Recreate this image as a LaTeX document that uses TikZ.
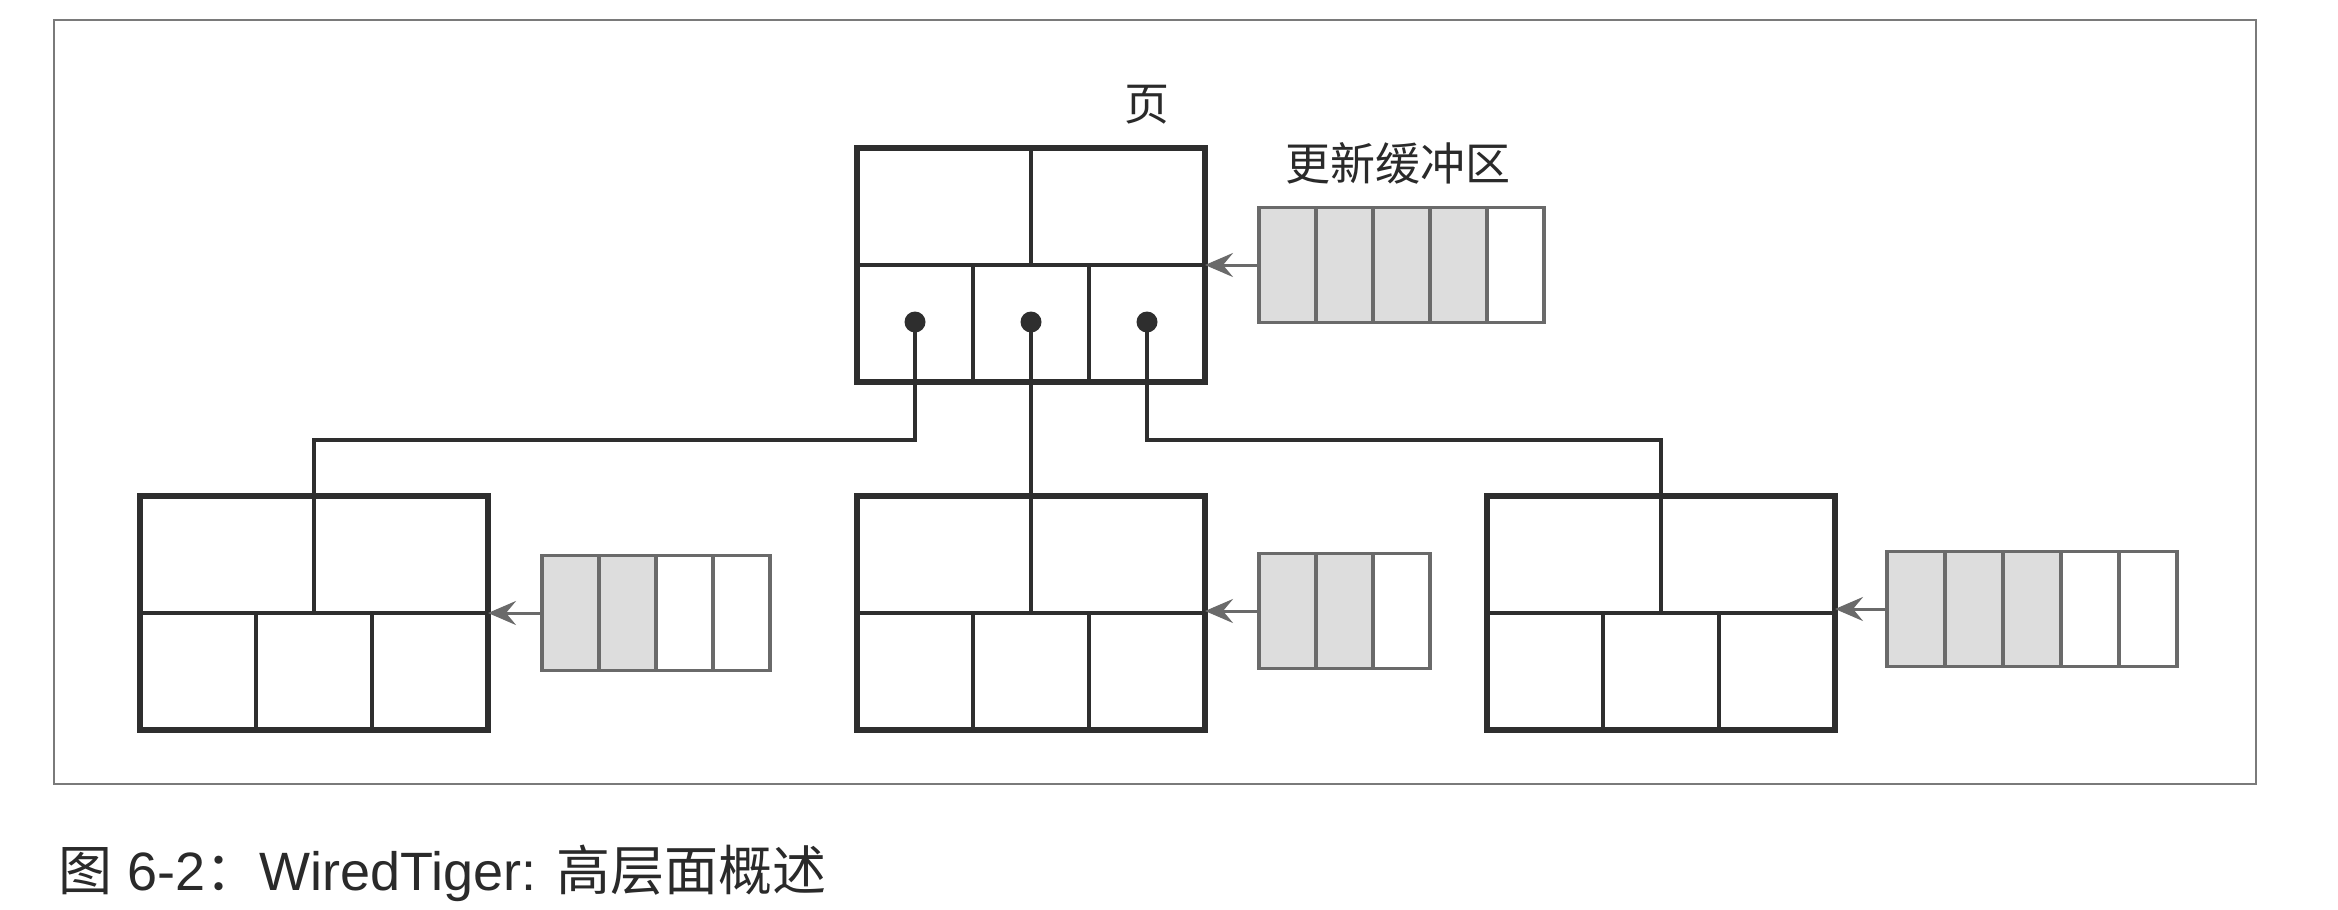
\documentclass[tikz,border=0pt]{standalone}
\usepackage{fontspec}
\setmainfont{Liberation Sans}
\newfontfamily\cjk{Noto Sans CJK SC}
\usetikzlibrary{calc,arrows.meta}
\definecolor{boxline}{HTML}{2E2E2E}
\definecolor{bufline}{HTML}{6A6A6A}
\definecolor{buffill}{HTML}{DDDDDD}
\definecolor{framec}{HTML}{7A7A7A}
\definecolor{textc}{HTML}{2A2A2A}
\tikzset{
  pagebox/.style={draw=boxline, line width=6pt, minimum width=348pt, minimum height=234pt, inner sep=0pt, outer sep=0pt},
  divider/.style={draw=boxline, line width=4.5pt},
  link/.style={draw=boxline, line width=4pt},
  dotnode/.style={circle, fill=boxline, minimum size=21pt, inner sep=0pt, outer sep=0pt},
  bufnode/.style={minimum height=115pt, inner sep=0pt, outer sep=0pt},
  bufedge/.style={draw=bufline, line width=3.5pt},
  bufarrow/.style={draw=bufline, line width=3pt, -{Stealth[length=28pt,width=24pt,inset=10pt]}},
  lbl/.style={font=\cjk\fontsize{45}{50}\selectfont, text=textc, inner sep=0pt},
}
% #1 name, #2 left x, #3 centre y, #4 cells, #5 shaded cells, #6 cell width
\newcommand{\mybuffer}[6]{%
  \pgfmathsetlengthmacro{\bufw}{#4*#6}%
  \node[bufnode, minimum width=\bufw, anchor=west] (#1) at (#2,#3) {};
  \foreach \ii in {1,...,#5} {\fill[buffill] ($(#1.south west)!{(\ii-1)/#4}!(#1.south east)$) rectangle ($(#1.north west)!{\ii/#4}!(#1.north east)$);}
  \draw[bufedge] (#1.south west) rectangle (#1.north east);
  \pgfmathtruncatemacro{\bufn}{#4-1}%
  \foreach \ii in {1,...,\bufn} {\draw[bufedge] ($(#1.south west)!{\ii/#4}!(#1.south east)$) -- ($(#1.north west)!{\ii/#4}!(#1.north east)$);}
}
% #1 name
\newcommand{\mydividers}[1]{%
  \draw[divider] (#1.west) -- (#1.east);
  \draw[divider] (#1.north) -- (#1.center);
  \draw[divider] ($(#1.south west)!1/3!(#1.south east)$) -- ($(#1.west)!1/3!(#1.east)$);
  \draw[divider] ($(#1.south west)!2/3!(#1.south east)$) -- ($(#1.west)!2/3!(#1.east)$);
}
\begin{document}
\begin{tikzpicture}[x=1pt,y=-1pt]
\useasboundingbox[fill=white] (0,0) rectangle (2338,910);
% frame
\draw[framec, line width=2pt] (54,20) rectangle (2256,784);
% pages
\node[pagebox] (p0) at (1031,265) {};
\node[pagebox] (pl) at (314,613) {};
\node[pagebox] (pm) at (1031,613) {};
\node[pagebox] (pr) at (1661,613) {};
\mydividers{p0}
\mydividers{pl}
\mydividers{pm}
\mydividers{pr}
% pointer dots
\node[dotnode] (d1) at ($(p0.west)!1/6!(p0.east)+(0,57)$) {};
\node[dotnode] (d2) at ($(p0.west)!3/6!(p0.east)+(0,57)$) {};
\node[dotnode] (d3) at ($(p0.west)!5/6!(p0.east)+(0,57)$) {};
% links
\coordinate (jl) at (314,440);
\coordinate (jr) at (1661,440);
\draw[link] (d1.center) |- (jl) -- (pl.center);
\draw[link] (d2.center) -- (pm.center);
\draw[link] (d3.center) |- (jr) -- (pr.center);
% update buffers
\mybuffer{b0}{1259}{265}{5}{4}{57}
\mybuffer{bl}{542}{613}{4}{2}{57}
\mybuffer{bm}{1259}{611}{3}{2}{57}
\mybuffer{br}{1887}{609}{5}{3}{58}
\draw[bufarrow] (b0.west) -- (p0.east);
\draw[bufarrow] (bl.west) -- (pl.east |- bl.west);
\draw[bufarrow] (bm.west) -- (pm.east |- bm.west);
\draw[bufarrow] (br.west) -- (pr.east |- br.west);
% labels
\node[lbl] (ye) at (1147,105) {页};
\node[lbl] (ub) at (1398,163) {更新缓冲区};
% caption
\node[anchor=west, inner sep=0pt, text=textc, font=\fontsize{54}{60}\selectfont] (cap) at (58,873) {{\cjk 图} 6-2{\cjk ：}WiredTiger: {\cjk 高层面概述}};
\end{tikzpicture}
\end{document}
